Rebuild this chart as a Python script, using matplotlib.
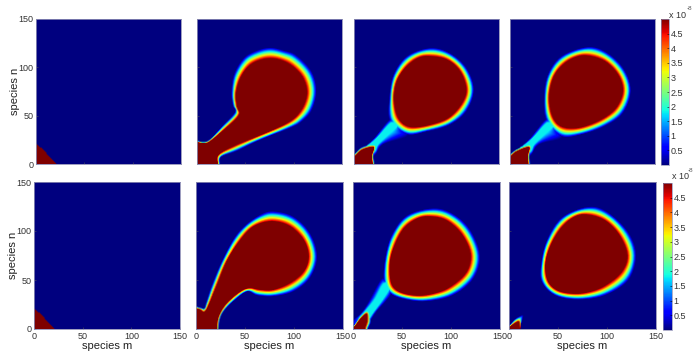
import numpy as np
import matplotlib
matplotlib.use("Agg")
import matplotlib.pyplot as plt
from matplotlib.path import Path

plt.rcParams["font.family"] = ["Liberation Sans", "DejaVu Sans"]

# outlines, in (species m, species n)
# core = edge of the saturated area, halo = where the colour fades to background
triangle = [(-8, 29), (0, 21), (21, 0), (29, -8), (-8, -8)]

t2_core = [(-6, 21), (5, 21), (12, 22.5), (27.6, 35), (43, 50), (41, 59), (40, 73), (45, 89), (55, 102),
           (69, 108), (83, 108), (97, 102), (109, 90), (114, 75), (111, 61), (103, 49), (90, 40), (62, 28),
           (38, 18), (22, 9), (21, 0), (21, -6), (-6, -6)]
t2_halo = [(-6, 22), (7, 22.5), (14, 26), (25, 38), (39, 53), (37, 60), (35.5, 73), (38, 92), (48, 109), (62, 117),
           (76, 120), (90, 117), (103, 112), (119, 95), (124, 75), (119, 55), (108, 43), (97, 37), (62, 23), (41, 13),
           (25, 7), (23.5, 0), (23.5, -6), (-6, -6)]

t3_core = [(77, 111), (96, 107.6), (110, 95.5), (116.5, 76.5), (111, 61), (97.5, 47), (78.6, 40), (61, 37.6),
           (51, 41), (44, 50.7), (41, 68), (44, 85), (53, 99), (65, 108.6)]
t3_halo = [(78.6, 119.6), (99, 114.5), (116.5, 99), (124.5, 76.5), (116.5, 54), (99, 40), (75, 33), (54.5, 30),
           (37, 44), (36.5, 68), (40.7, 92), (54.5, 111)]
t3_tail_core = [(4, 12), (14, 19), (24, 27), (38, 42), (46, 40), (32, 27), (24, 19), (20, 12)]
t3_tail_halo = [(-6, 6), (0, 10), (16.5, 22), (37, 46), (42, 42), (56, 29), (30, 20), (21.7, 9), (14, 4)]
t3_spot_core = [(-6, 4), (0, 7.6), (8, 14.5), (20, 17), (18, 7.6), (19, 0), (19, -6), (-6, -6)]
t3_spot_halo = [(-6, 6), (0, 10), (8, 17), (22, 19.5), (20, 8), (21, 0), (21, -6), (-6, -6)]

t4_core = [(79, 111.7), (98, 106), (112, 92), (117, 75), (110, 57.6), (94.5, 45.5), (74, 37.6), (58, 37),
           (48, 42), (42, 54), (40.3, 71), (44.5, 88.6), (53, 100.7), (65, 109)]
t4_halo = [(80.7, 120.7), (101, 114.5), (118.6, 97), (125.5, 75), (117, 52), (98, 38.6), (74, 30), (53, 28),
           (37.6, 44), (35, 68), (39, 92), (53, 111)]
t4_tail_core = [(4, 12), (14, 19), (24, 27), (38, 42), (46, 40), (32, 27), (24, 19), (20, 12)]
t4_tail_halo = [(-6, 6), (0, 10), (16.5, 22), (37, 46), (42, 42), (54, 27), (30, 20), (21.7, 9), (14, 4)]
t4_spot_core = [(-6, 3), (0, 7.6), (6.5, 12.8), (19.3, 17), (18, 7.6), (18.6, 0), (18.6, -6), (-6, -6)]
t4_spot_halo = [(-6, 5), (0, 10), (7, 15), (21.5, 19.5), (20, 8), (20.5, 0), (20.5, -6), (-6, -6)]

b2_core = [(-6, 21), (0, 20.5), (4, 19.5), (8, 17), (12.6, 24.6), (21, 45), (31, 69), (45, 91), (58.7, 105),
           (77.5, 110), (96, 105), (110, 91), (115, 74), (110, 58.7), (96, 46.8), (79, 40), (65.5, 40),
           (54.6, 41.6), (45, 38), (31, 26), (23, 12.6), (21, 0), (21, -6), (-6, -6)]
b2_halo = [(-6, 22), (4, 21.5), (8, 21), (10, 27), (16, 45), (26, 69), (38, 92), (50, 106), (65.5, 117), (79, 120.5),
           (99.7, 115), (116.7, 98), (124, 74), (116.7, 52), (99.7, 38), (79, 33), (62, 34), (52, 38), (38, 28),
           (28, 17.7), (24, 9), (23, 0), (23, -6), (-6, -6)]

b3_core = [(78.5, 115), (95.5, 111), (111, 97), (120, 77), (116, 58), (99, 42.7), (82, 36), (65, 34), (48, 37.5),
           (39.3, 46), (37.5, 65), (41, 82), (51, 102), (65, 112.6)]
b3_halo = [(82, 123.5), (102, 118), (119.5, 102), (130, 75), (123, 51), (102, 34), (75, 28), (53, 30), (37.5, 36),
           (31, 48), (32.4, 72), (39, 95.6), (54.6, 116)]
b3_tail_core = [(6, 10), (12, 18), (22, 30), (31, 46), (38, 44), (30, 30), (20, 16), (14, 8)]
b3_tail_halo = [(-6, 4), (6, 14), (13.6, 24), (28, 50), (34, 48), (39, 36), (24, 18), (17, 8), (8, 0)]
b3_spot_core = [(-6, -4), (0.7, 1.7), (7, 10), (13.6, 15.4), (14, 7), (12, 0), (12, -6), (-6, -6)]
b3_spot_halo = [(-6, -2), (0, 3), (7, 13), (15, 19), (18, 8), (15, 0), (15, -6), (-6, -6)]

b4_core = [(79, 117), (98, 111), (113, 95.6), (121, 75), (115, 58), (98, 44), (81, 37.5), (65.5, 36), (50, 39),
           (40, 48), (37, 65), (41.6, 83.6), (52, 102), (65.5, 114)]
b4_halo = [(81, 125), (101, 119.5), (122, 99), (130, 75), (122, 49.5), (98, 34), (70.6, 29.7), (46.8, 34), (33, 48),
           (32.4, 66.5), (38, 90), (53.6, 114)]
b4_spot_core = [(-6, -2), (0, 1.7), (6, 5.8), (10, 6.8), (11, 0), (11, -6), (-6, -6)]
b4_spot_halo = [(-6, 0), (0, 3.4), (6, 10), (14, 13.6), (12, 5), (12, 0), (12, -6), (-6, -6)]

# core, halo, level at the core (fraction of the colour range)
top_row = [
    [(triangle, None, 1.0)],
    [(t2_core, t2_halo, 1.0)],
    [(t3_core, t3_halo, 1.0), (t3_tail_core, t3_tail_halo, 0.36), (t3_spot_core, t3_spot_halo, 1.0)],
    [(t4_core, t4_halo, 1.0), (t4_tail_core, t4_tail_halo, 0.36), (t4_spot_core, t4_spot_halo, 1.0)],
]
bottom_row = [
    [(triangle, None, 1.0)],
    [(b2_core, b2_halo, 1.0)],
    [(b3_core, b3_halo, 1.0), (b3_tail_core, b3_tail_halo, 0.36), (b3_spot_core, b3_spot_halo, 1.0)],
    [(b4_core, b4_halo, 1.0), (b4_spot_core, b4_spot_halo, 1.0)],
]

ticks = [0, 50, 100, 150]
cbar_ticks = [0.5, 1, 1.5, 2, 2.5, 3, 3.5, 4, 4.5]
cbar_labels = ["0.5", "1", "1.5", "2", "2.5", "3", "3.5", "4", "4.5"]
vmax = 5e-8

W, H = 698, 358
top_boxes = [(36, 181), (197, 342), (354, 499), (510, 655)]
bottom_boxes = [(34, 180), (196, 343), (353, 500), (509, 656)]


def smooth(points, n=6):
    # closed Catmull-Rom curve through the read points
    p1 = np.array(points, dtype=float)
    p0, p2, p3 = np.roll(p1, 1, axis=0), np.roll(p1, -1, axis=0), np.roll(p1, -2, axis=0)
    out = []
    for t in np.arange(n) / n:
        out.append(0.5 * (2 * p1 + (p2 - p0) * t + (2 * p0 - 5 * p1 + 4 * p2 - p3) * t ** 2
                          + (3 * p1 - p0 - 3 * p2 + p3) * t ** 3))
    return np.stack(out, axis=1).reshape(-1, 2)


def dist_to(poly, xy):
    a = poly
    b = np.roll(poly, -1, axis=0)
    ab = b - a
    d = np.full(len(xy), np.inf)
    for i in range(len(a)):
        ap = xy - a[i]
        t = np.clip((ap @ ab[i]) / (ab[i] @ ab[i]), 0, 1)
        d = np.minimum(d, np.hypot(*(ap - t[:, None] * ab[i]).T))
    return d


m = np.arange(0, 151)
mm, nn = np.meshgrid(m, m)
grid = np.column_stack([mm.ravel(), nn.ravel()]).astype(float)


def make_field(layers):
    field = np.zeros(len(grid))
    for core, halo, level in layers:
        core = smooth(core)
        vals = np.zeros(len(grid))
        if halo is not None:
            halo = smooth(halo)
            mask = Path(halo).contains_points(grid)
            d_in = dist_to(core, grid[mask])
            d_out = dist_to(halo, grid[mask])
            vals[mask] = level * (d_out / (d_in + d_out))
        vals[Path(core).contains_points(grid)] = level
        field = np.maximum(field, vals)
    return field.reshape(mm.shape) * vmax


def add_axes_px(x0, x1, y0, y1):
    return fig.add_axes([x0 / W, 1 - y1 / H, (x1 - x0) / W, (y1 - y0) / H])


fig = plt.figure(figsize=(W / 100, H / 100), dpi=100)

rows = [(top_row, top_boxes, 19, 164, False, (661, 669), (19, 165), (669, 15), (687, 8)),
        (bottom_row, bottom_boxes, 182, 329, True, (663, 672), (183, 330), (672, 177), (688, 171))]

for layers_row, boxes, y0, y1, show_x, cb_x, cb_y, x10_pos, exp_pos in rows:
    for j, (layers, box) in enumerate(zip(layers_row, boxes)):
        ax = add_axes_px(box[0], box[1], y0, y1)
        im = ax.imshow(make_field(layers), origin="lower", extent=[0, 150, 0, 150], cmap="jet",
                       vmin=0, vmax=vmax, interpolation="bilinear", aspect="auto")
        ax.set_xticks(ticks)
        ax.set_yticks(ticks)
        ax.tick_params(direction="in", length=1.5, width=0.4, color="#555555", labelsize=6.5,
                       labelcolor="#333333", pad=2, labelleft=j == 0, labelbottom=show_x)
        for s in ax.spines.values():
            s.set_linewidth(0.6)
            s.set_color("#8c8cb4")
        if j == 0:
            ax.set_ylabel("species n", fontsize=8, color="#222222", labelpad=-1.5)
        if show_x:
            ax.set_xlabel("species m", fontsize=8, color="#222222", labelpad=0)

    cax = add_axes_px(cb_x[0], cb_x[1], cb_y[0], cb_y[1])
    cb = fig.colorbar(im, cax=cax)
    cb.set_ticks([v * 1e-8 for v in cbar_ticks], labels=cbar_labels)
    cb.ax.tick_params(direction="in", length=1.5, width=0.4, labelsize=6.5, labelcolor="#333333", pad=1)
    cb.outline.set_linewidth(0.5)
    cb.outline.set_edgecolor("#8c8cb4")
    fig.text(x10_pos[0] / W, 1 - x10_pos[1] / H, "x 10", fontsize=6.5, color="#333333", va="center")
    fig.text(exp_pos[0] / W, 1 - exp_pos[1] / H, "-8", fontsize=4.5, color="#555555", va="center")

fig.savefig("out.png", dpi=100)
